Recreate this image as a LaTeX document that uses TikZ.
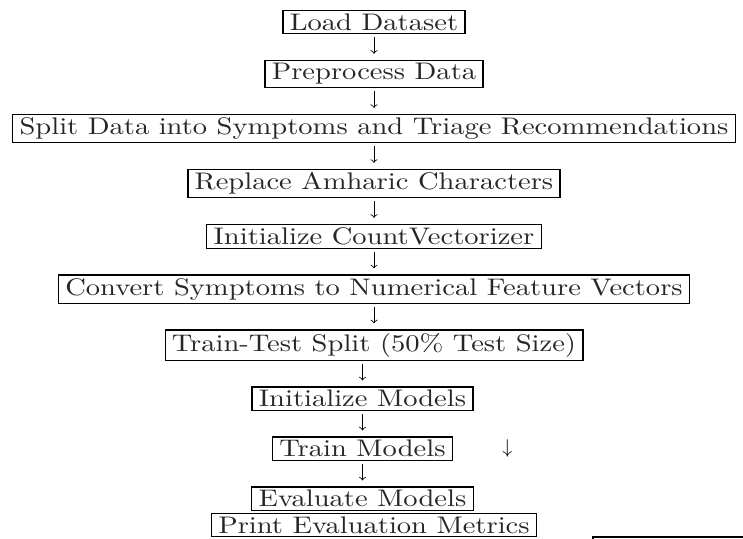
\documentclass[tikz,border=0pt]{standalone}
\usepackage{fontspec}
\newfontfamily\boxfont{lmroman10-regular}[Extension=.otf,FakeStretch=1.19]
\usetikzlibrary{positioning}

\tikzset{
  stage/.style={draw, line width=0.6pt, inner xsep=3.4pt, inner ysep=1.6pt,
                text=black!85, font=\boxfont\fontsize{12}{14}\selectfont},
  flow/.style={->, shorten <=1.5pt, shorten >=3pt},
}

\begin{document}
\begin{tikzpicture}[x=0.5pt, y=-0.5pt, node distance=12.75pt]
        \useasboundingbox (0,0) rectangle (743,539);

        \node[stage] (load) at (374,22) {Load Dataset};
        \node[stage,below=of load] (prep) {Preprocess Data};
        \draw[flow] (load.south) -- (prep.north);

        \node[stage,below=of prep] (split) {Split Data into Symptoms and Triage Recommendations};
        \draw[flow] (prep.south) -- (split.north);

        \node[stage,below=of split] (amharic) {Replace Amharic Characters};
        \draw[flow] (split.south) -- (amharic.north);

        \node[stage,below=of amharic] (vectorizer) {Initialize CountVectorizer};
        \draw[flow] (amharic.south) -- (vectorizer.north);

        \node[stage,below=of vectorizer] (convert) {Convert Symptoms to Numerical Feature Vectors};
        \draw[flow] (vectorizer.south) -- (convert.north);

        \node[stage,below=of convert] (tts) {Train-Test Split (50\% Test Size)};
        \draw[flow] (convert.south) -- (tts.north);

        \node[stage,below=of tts,xshift=-5.75pt] (models) {Initialize Models};
        \draw[flow] (tts.south -| models.north) -- (models.north);

        \node[stage,below=of models] (train) {Train Models};
        \draw[flow] (models.south) -- (train.north);

        \node[stage,below=of train] (evaluate) {Evaluate Models};
        \draw[flow] (train.south) -- (evaluate.north);

        \node[stage,below=1pt of evaluate,xshift=5.75pt] (metrics) {Print Evaluation Metrics};

        % stray arrow next to the training step
        \node[right=24.5pt of train,inner sep=0pt] (stray) {$\downarrow$};

        % box cut off at the corner
        \draw[line width=0.6pt] (593,537) rectangle (800,600);
    \end{tikzpicture}
\end{document}
